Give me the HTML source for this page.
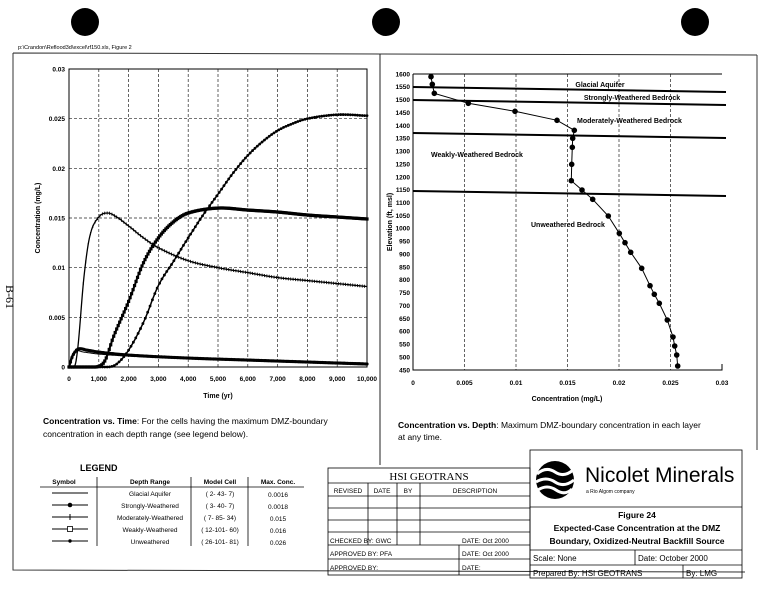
<!DOCTYPE html>
<html><head><meta charset="utf-8"><style>
html,body{margin:0;padding:0;background:#fff;}
svg{display:block;font-family:"Liberation Sans",Arial,sans-serif;}
</style></head><body>
<svg id="s" width="775" height="600" viewBox="0 0 775 600" xmlns="http://www.w3.org/2000/svg">
<rect width="775" height="600" fill="#fff"/>
<circle cx="85" cy="22" r="14" fill="#000"/>
<circle cx="386" cy="22" r="14" fill="#000"/>
<circle cx="695" cy="22" r="14" fill="#000"/>
<text x="18" y="49" font-size="5.5">p:\Crandon\Reflood3d\excel\rf150.xls, Figure 2</text>
<path d="M13 53 L757 55 M13 53 L13 570 L745 572 M757 55 L757 450" stroke="#333" stroke-width="1" fill="none"/>
<line x1="380" y1="54" x2="380" y2="465" stroke="#222" stroke-width="1"/>
<text transform="translate(6,285) rotate(90)" font-size="12" font-family="Liberation Serif,serif">B-61</text>
<g id="left"></g>
<g id="right"></g>
<text transform="translate(40,218) rotate(-90)" text-anchor="middle" font-size="7" font-weight="bold">Concentration (mg/L)</text>
<text x="218" y="398" text-anchor="middle" font-size="7" font-weight="bold">Time (yr)</text>
<text transform="translate(392,222) rotate(-90)" text-anchor="middle" font-size="7" font-weight="bold">Elevation (ft, msl)</text>
<text x="567" y="401" text-anchor="middle" font-size="7" font-weight="bold">Concentration (mg/L)</text>
<text x="43" y="424" font-size="8.5"><tspan font-weight="bold">Concentration vs. Time</tspan>:  For the cells having the maximum DMZ-boundary</text>
<text x="43" y="437" font-size="8.5">concentration in each depth range (see legend below).</text>
<text x="398" y="428" font-size="8.5"><tspan font-weight="bold">Concentration vs. Depth</tspan>:  Maximum DMZ-boundary concentration in each layer</text>
<text x="398" y="440" font-size="8.5">at any time.</text>
<g font-size="6.5" font-family="Liberation Sans Narrow,Liberation Sans,sans-serif">
<text x="80" y="471" font-size="9" font-weight="bold">LEGEND</text>
<text x="64" y="484" text-anchor="middle" font-weight="bold">Symbol</text>
<text x="150" y="484" text-anchor="middle" font-weight="bold">Depth Range</text>
<text x="220" y="484" text-anchor="middle" font-weight="bold">Model Cell</text>
<text x="278" y="484" text-anchor="middle" font-weight="bold">Max. Conc.</text>
<line x1="40" y1="487" x2="304" y2="487" stroke="#000" stroke-width="0.8"/>
<line x1="97" y1="477" x2="97" y2="546" stroke="#000" stroke-width="0.8"/>
<line x1="191" y1="477" x2="191" y2="546" stroke="#000" stroke-width="0.8"/>
<line x1="248" y1="477" x2="248" y2="546" stroke="#000" stroke-width="0.8"/>
<line x1="52" y1="493" x2="88" y2="493" stroke="#000"/>
<line x1="52" y1="505" x2="88" y2="505" stroke="#000"/><circle cx="70" cy="505" r="2.3"/>
<line x1="52" y1="517" x2="88" y2="517" stroke="#000"/><line x1="70" y1="514" x2="70" y2="520" stroke="#000"/>
<line x1="52" y1="529" x2="88" y2="529" stroke="#000"/><rect x="67.5" y="526.5" width="5" height="5" fill="#fff" stroke="#000" stroke-width="0.8"/>
<line x1="52" y1="541" x2="88" y2="541" stroke="#000"/><circle cx="70" cy="541" r="1.7"/>
<text x="150" y="496" text-anchor="middle">Glacial Aquifer</text>
<text x="150" y="508" text-anchor="middle">Strongly-Weathered</text>
<text x="150" y="520" text-anchor="middle">Moderately-Weathered</text>
<text x="150" y="532" text-anchor="middle">Weakly-Weathered</text>
<text x="150" y="544" text-anchor="middle">Unweathered</text>
<text x="220" y="496" text-anchor="middle">( 2- 43-  7)</text>
<text x="220" y="508" text-anchor="middle">( 3- 40-  7)</text>
<text x="220" y="520" text-anchor="middle">( 7- 85- 34)</text>
<text x="220" y="532" text-anchor="middle">( 12-101- 60)</text>
<text x="220" y="544" text-anchor="middle">( 26-101- 81)</text>
<text x="278" y="497" text-anchor="middle">0.0016</text>
<text x="278" y="509" text-anchor="middle">0.0018</text>
<text x="278" y="521" text-anchor="middle">0.015</text>
<text x="278" y="533" text-anchor="middle">0.016</text>
<text x="278" y="545" text-anchor="middle">0.026</text>
</g>
<g stroke="#000" stroke-width="0.8" fill="none">
<rect x="328" y="468" width="202" height="107"/>
<line x1="328" y1="483" x2="530" y2="483"/>
<line x1="328" y1="496" x2="530" y2="496"/>
<line x1="328" y1="508" x2="530" y2="508"/>
<line x1="328" y1="520" x2="530" y2="520"/>
<line x1="328" y1="532" x2="530" y2="532"/>
<line x1="328" y1="545" x2="530" y2="545"/>
<line x1="328" y1="559" x2="530" y2="559"/>
<line x1="368" y1="483" x2="368" y2="545"/>
<line x1="397" y1="483" x2="397" y2="545"/>
<line x1="420" y1="483" x2="420" y2="545"/>
<line x1="459" y1="545" x2="459" y2="575"/>
</g>
<g font-size="6.5" font-family="Liberation Sans Narrow,Liberation Sans,sans-serif">
<text x="429" y="480" text-anchor="middle" font-size="11" font-family="Liberation Serif,serif">HSI GEOTRANS</text>
<text x="348" y="493" text-anchor="middle">REVISED</text>
<text x="382" y="493" text-anchor="middle">DATE</text>
<text x="408" y="493" text-anchor="middle">BY</text>
<text x="475" y="493" text-anchor="middle">DESCRIPTION</text>
<text x="330" y="543">CHECKED BY: GWC</text>
<text x="462" y="543">DATE:  Oct 2000</text>
<text x="330" y="556">APPROVED BY:  PFA</text>
<text x="462" y="556">DATE:  Oct 2000</text>
<text x="330" y="570">APPROVED BY:</text>
<text x="462" y="570">DATE:</text>
</g>
<g stroke="#000" stroke-width="0.8" fill="none">
<rect x="530" y="450" width="212" height="128"/>
<line x1="530" y1="507" x2="742" y2="507"/>
<line x1="530" y1="550" x2="742" y2="550"/>
<line x1="530" y1="565" x2="742" y2="565"/>
<line x1="635" y1="550" x2="635" y2="565"/>
<line x1="683" y1="565" x2="683" y2="578"/>
</g>
<circle cx="555" cy="480" r="19" fill="#000"/>
<path d="M537 474 Q546 466 555 472 T573 470 M536 482 Q546 476 555 482 T574 480 M538 490 Q547 484 556 490 T572 489" stroke="#fff" stroke-width="3" fill="none"/>
<text x="585" y="482" font-size="21">Nicolet Minerals</text>
<text x="586" y="493" font-size="5">a Rio Algom company</text>
<g font-weight="bold" font-size="8.5" text-anchor="middle">
<text x="637" y="518">Figure 24</text>
<text x="637" y="531">Expected-Case Concentration at the DMZ</text>
<text x="637" y="544">Boundary, Oxidized-Neutral Backfill Source</text>
</g>
<g font-size="8">
<text x="533" y="561">Scale:  None</text>
<text x="638" y="561">Date: October 2000</text>
<text x="533" y="576">Prepared By:  HSI GEOTRANS</text>
<text x="686" y="576">By:  LMG</text>
</g>
</svg>
<script>
var NS="http://www.w3.org/2000/svg";
function el(p,t,a){var e=document.createElementNS(NS,t);for(var k in a)e.setAttribute(k,a[k]);p.appendChild(e);return e;}
function txt(p,x,y,s,a){var e=el(p,"text",Object.assign({x:x,y:y,"font-size":6.5,"font-weight":"bold"},a||{}));e.textContent=s;return e;}
var L=document.getElementById("left");
var X0=69,X1=367,Y0=367,Y1=69;
function lx(t){return X0+t/10000*(X1-X0);} function ly(c){return Y0-c/0.03*(Y0-Y1);}
for(var i=1;i<10;i++)el(L,"line",{x1:lx(i*1000),y1:Y1,x2:lx(i*1000),y2:Y0,stroke:"#222","stroke-width":0.7,"stroke-dasharray":"3,2"});
for(var i=1;i<6;i++)el(L,"line",{x1:X0,y1:ly(i*0.005),x2:X1,y2:ly(i*0.005),stroke:"#222","stroke-width":0.7,"stroke-dasharray":"3,2"});
el(L,"rect",{x:X0,y:Y1,width:X1-X0,height:Y0-Y1,fill:"none",stroke:"#000","stroke-width":1});
var yl=["0","0.005","0.01","0.015","0.02","0.025","0.03"];
for(var i=0;i<7;i++)txt(L,X0-4,ly(i*0.005)+2.5,yl[i],{"text-anchor":"end"});
for(var i=0;i<=10;i++)txt(L,lx(i*1000),381,i==0?"0":(i+",000"),{"text-anchor":"middle"});
function interp(pts,t){for(var i=0;i<pts.length-1;i++){if(t<=pts[i+1][0]){var a=pts[i],b=pts[i+1];var p0=pts[i-1]||a,p3=pts[i+2]||b;var u=(t-a[0])/(b[0]-a[0]);var m1=(b[1]-p0[1])/(b[0]-p0[0])*(b[0]-a[0]);var m2=(p3[1]-a[1])/(p3[0]-a[0])*(b[0]-a[0]);var h00=2*u*u*u-3*u*u+1,h10=u*u*u-2*u*u+u,h01=-2*u*u*u+3*u*u,h11=u*u*u-u*u;return Math.max(0,h00*a[1]+h10*m1+h01*b[1]+h11*m2);}}return pts[pts.length-1][1];}
function curve(pts,sw,mk,step){var d="";for(var t=0;t<=10000;t+=20){d+=(t?"L":"M")+lx(t).toFixed(1)+" "+ly(interp(pts,t)).toFixed(1);}el(L,"path",{d:d,fill:"none",stroke:"#000","stroke-width":sw});
 if(mk){for(var t=0;t<=10000;t+=step){var x=lx(t),y=ly(interp(pts,t));
  if(mk=="dot")el(L,"circle",{cx:x,cy:y,r:1.6});
  else if(mk=="dia")el(L,"circle",{cx:x,cy:y,r:1.4});
  else if(mk=="sq")el(L,"rect",{x:x-1.6,y:y-1.6,width:3.2,height:3.2,fill:"#000"});
  else if(mk=="plus")el(L,"line",{x1:x,y1:y-1.6,x2:x,y2:y+1.6,stroke:"#000","stroke-width":0.8});}}}
var G=[[0,0],[60,0.0009],[200,0.0016],[500,0.0015],[1000,0.0013],[2000,0.0011],[5000,0.0008],[10000,0.0004]];
var S=[[0,0],[120,0.0011],[300,0.0018],[600,0.0017],[1000,0.0015],[2000,0.0012],[4000,0.0009],[6000,0.0007],[8000,0.0005],[10000,0.0003]];
var M=[[0,0],[180,0],[300,0.002],[500,0.009],[700,0.0132],[1000,0.0151],[1300,0.0155],[1600,0.0151],[2000,0.0142],[2500,0.013],[3000,0.012],[4000,0.0107],[5000,0.01],[6000,0.0095],[7000,0.009],[8000,0.0087],[9000,0.0084],[10000,0.0081]];
var W=[[0,0],[900,0],[1200,0.0006],[1500,0.0031],[2000,0.0066],[2500,0.0105],[3000,0.013],[3500,0.0146],[4000,0.0155],[5000,0.016],[6000,0.0158],[7000,0.0156],[8000,0.0153],[9000,0.0151],[10000,0.0149]];
var U=[[0,0],[1300,0],[1600,0.0003],[2000,0.0017],[2500,0.0045],[3000,0.0082],[3500,0.0106],[4000,0.013],[4500,0.0153],[5000,0.0174],[5500,0.0195],[6000,0.0213],[6500,0.0227],[7000,0.0238],[7500,0.0245],[8000,0.025],[9000,0.0254],[10000,0.0253]];
curve(G,1,null);
curve(S,2.2,"dot",50);
curve(M,1.3,"plus",80);
curve(W,2,"sq",50);
curve(U,1.5,"dia",80);
var R=document.getElementById("right");
var RX0=413,RX1=722,RY0=370,RY1=74;
function rx(c){return RX0+c/0.03*(RX1-RX0);} function ry(e){return RY0-(e-450)/1150*(RY0-RY1);}
for(var i=1;i<6;i++)el(R,"line",{x1:rx(i*0.005),y1:RY1,x2:rx(i*0.005),y2:RY0,stroke:"#222","stroke-width":0.7,"stroke-dasharray":"3,2"});
el(R,"polyline",{points:RX0+","+RY1+" "+RX0+","+RY0+" "+RX1+","+RY0+" "+RX1+","+(RY0-6),fill:"none",stroke:"#000","stroke-width":1});
el(R,"line",{x1:RX0,y1:RY1,x2:RX1,y2:RY1,stroke:"#000","stroke-width":1});
for(var e=450;e<=1600;e+=50)txt(R,RX0-3,ry(e)+2.3,""+e,{"text-anchor":"end"});
var xl=["0","0.005","0.01","0.015","0.02","0.025","0.03"];
for(var i=0;i<7;i++)txt(R,rx(i*0.005),385,xl[i],{"text-anchor":"middle"});
[[87,92],[100,105],[133,138],[191,196]].forEach(function(a){el(R,"line",{x1:RX0,y1:a[0],x2:726,y2:a[1],stroke:"#000","stroke-width":2});});
var P=[[431,76.7],[432.3,84.3],[434.3,93.3],[468.3,103.3],[515,111.3],[557,120.3],[574.3,130.3],[572.7,138.3],[572.3,147.3],[571.7,164.3],[571.3,180.7],[582,190],[592.7,199.3],[608.3,216],[619.3,233.3],[625,242.7],[630.7,252.3],[641.7,268.3],[650,285.7],[654.3,294.3],[659.3,303.3],[667.3,320],[673,337],[674.7,346],[676.7,355],[677.7,366]];
el(R,"polyline",{points:P.map(function(p){return p.join(",");}).join(" "),fill:"none",stroke:"#000","stroke-width":1});
P.forEach(function(p){el(R,"circle",{cx:p[0],cy:p[1],r:2.8});});
txt(R,600,87,"Glacial Aquifer",{"font-size":7,"text-anchor":"middle"});
txt(R,632,100,"Strongly-Weathered Bedrock",{"font-size":7,"text-anchor":"middle"});
txt(R,577,123,"Moderately-Weathered Bedrock",{"font-size":7});
txt(R,431,157,"Weakly-Weathered Bedrock",{"font-size":7});
txt(R,531,227,"Unweathered Bedrock",{"font-size":7});
</script>
</body></html>
